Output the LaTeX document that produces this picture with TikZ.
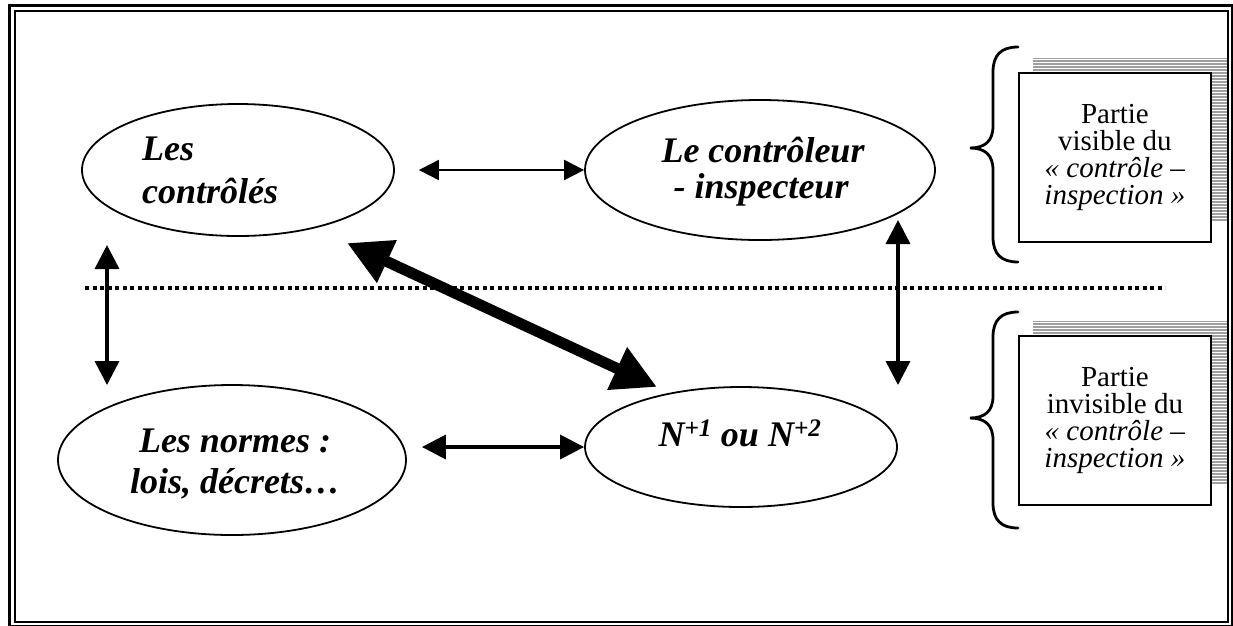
\documentclass[tikz,border=0pt]{standalone}
\usepackage{fontspec}
\setmainfont{Liberation Serif}
\usetikzlibrary{arrows.meta,shapes.geometric}
\begin{document}
\begin{tikzpicture}[x=1pt,y=-1pt,
  oval/.style={draw,line width=1.8pt,ellipse,inner sep=0pt},
  ovaltext/.style={font=\fontsize{36}{40}\selectfont\bfseries\itshape,inner sep=0pt},
  boxtext/.style={font=\fontsize{29}{27}\selectfont,align=center,inner sep=0pt},
  partbox/.style={draw,line width=1.8pt,fill=white,minimum width=192pt,minimum height=169pt,inner sep=0pt},
  thinarrow/.style={line width=2pt,{Triangle[length=20pt,width=20pt]}-{Triangle[length=20pt,width=20pt]}},
  midarrow/.style={line width=3.5pt,{Triangle[length=24pt,width=24pt]}-{Triangle[length=24pt,width=24pt]}},
  bigarrow/.style={line width=11pt,{Triangle[length=44pt,width=44pt]}-{Triangle[length=44pt,width=44pt]}},
  brace/.style={line width=2.8pt,line cap=round}]
\useasboundingbox (0,0) rectangle (1233,625);

% double frame
\draw[line width=2.2pt] (9.5,5.5) rectangle (1232,626);
\draw[line width=2pt] (14.5,10.5) rectangle (1228,622);

% ovals
\node[oval,minimum width=312pt,minimum height=132pt] (e1) at (238,170) {};
\node[oval,minimum width=350pt,minimum height=140pt] (e2) at (760,170) {};
\node[oval,minimum width=348pt,minimum height=150pt] (e3) at (232,460) {};
\node[oval,minimum width=312pt,minimum height=120pt] (e4) at (741,447) {};

% oval captions
\node[ovaltext,anchor=base west] (t1a) at (142,160) {Les};
\node[ovaltext,anchor=base west] (t1b) at (142,203) {contrôlés};
\node[ovaltext,anchor=base] (t2a) at (763,162) {Le contrôleur};
\node[ovaltext,anchor=base] (t2b) at (761,198) {- inspecteur};
\node[ovaltext,anchor=base] (t3a) at (235,452) {Les normes :};
\node[ovaltext,anchor=base] (t3b) at (235,493) {lois, décrets…};
\node[ovaltext,anchor=base] (t4) at (740,446) {N\textsuperscript{+1} ou N\textsuperscript{+2}};

% separation between visible and invisible parts
\coordinate (sepL) at (85,288);
\coordinate (sepR) at (1165,288);
\draw[line width=3.5pt,dash pattern=on 4pt off 3.5pt] (sepL) -- (sepR);

% relations
\draw[thinarrow,shorten <=24pt] (e1.east) -- (e2.west);
\draw[midarrow,shorten <=15pt] (e3.east |- e4.west) -- (e4.west);
\coordinate (lt) at (107,245);
\coordinate (lb) at (107,385);
\draw[midarrow] (lt) -- (lb);
\coordinate (rt) at (898,220);
\coordinate (rb) at (898,385);
\draw[midarrow] (rt) -- (rb);
\coordinate (dt) at (347,243);
\coordinate (db) at (657,387);
\draw[bigarrow] (dt) -- (db);

% side boxes with striped shadows
\foreach \top/\nm/\txt in {72/b1/visible, 335/b2/invisible}{
  \fill[gray!75] (1033,\top-14) rectangle (1227,\top+150);
  \foreach \k in {0,...,54}
    \draw[white,line width=1pt] (1033,\top-12.5+3*\k) -- (1227,\top-12.5+3*\k);
  \node[partbox,anchor=north west] (\nm) at (1018,\top) {};
  \node[boxtext] at (\nm) {Partie\\\txt{} du\\\textit{« contrôle –}\\\textit{inspection »}};
}

% braces
\draw[brace] (1018,47) .. controls (1001,47) and (993,55) .. (993,72) -- (993,126)
  .. controls (993,141) and (985,148) .. (970,148)
  .. controls (985,148) and (993,155) .. (993,170) -- (993,237)
  .. controls (993,254) and (1001,262) .. (1018,262);
\draw[brace] (1018,312) .. controls (1001,312) and (993,320) .. (993,337) -- (993,396)
  .. controls (993,411) and (985,418) .. (970,418)
  .. controls (985,418) and (993,425) .. (993,440) -- (993,503)
  .. controls (993,520) and (1001,528) .. (1018,528);
\end{tikzpicture}
\end{document}
